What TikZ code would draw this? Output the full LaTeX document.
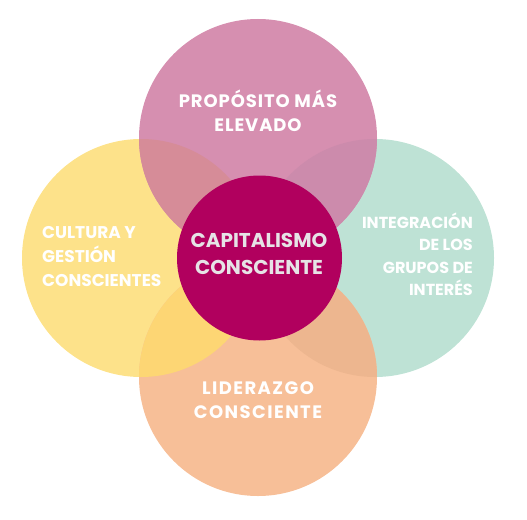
\documentclass[tikz,border=0pt]{standalone}
\usepackage{fontspec}
\setmainfont{Poppins}
\newfontfamily\ringfont{Poppins}
\usetikzlibrary{positioning}
\definecolor{purposePink}{HTML}{D68FB0}
\definecolor{cultureYellow}{HTML}{FDE28A}
\definecolor{stakeMint}{HTML}{BEE2D5}
\definecolor{leadPeach}{HTML}{F7BF98}
\definecolor{corePlum}{HTML}{B1005E}
\definecolor{mixPY}{HTML}{D68C98}
\definecolor{mixPM}{HTML}{CC8BAC}
\definecolor{mixLY}{HTML}{FDD674}
\definecolor{mixLM}{HTML}{EDB68F}
\definecolor{coreText}{HTML}{E6E3E6}
% bold label font: size, line distance, tracking
\newcommand{\labelfont}[3]{\ringfont\bfseries\fontsize{#1}{#2}\selectfont\addfontfeature{LetterSpace=#3}}

\begin{document}
\begin{tikzpicture}[x=1pt, y=-1pt,
    ring/.style={circle, minimum size=238pt, inner sep=0pt},
    ringlabel/.style={text=white, inner sep=0pt},
    corelabel/.style={text=coreText, inner sep=0pt, align=center, font=\labelfont{20}{27}{0}}
]
\useasboundingbox (0,0) rectangle (527,519);

% outer rings
\node[ring, fill=cultureYellow] (cultura) at (141,258) {};
\node[ring, fill=stakeMint] (grupos) at (375,258) {};
\node[ring, fill=leadPeach] (liderazgo) at (258,377) {};
\node[ring, fill=purposePink] (proposito) at (258,138) {};

% overlaps
\begin{scope}
  \clip (proposito.center) circle[radius=119pt];
  \fill[mixPY] (cultura.center) circle[radius=119pt];
  \fill[mixPM] (grupos.center) circle[radius=119pt];
\end{scope}
\begin{scope}
  \clip (liderazgo.center) circle[radius=119pt];
  \fill[mixLY] (cultura.center) circle[radius=119pt];
  \fill[mixLM] (grupos.center) circle[radius=119pt];
\end{scope}

% core
\node[circle, minimum size=165pt, inner sep=0pt, fill=corePlum] (capital) at (259.5,258) {};

% labels
\node[ringlabel, align=center, font=\labelfont{18}{24}{5}] (tPurpose) at (258,111) {PROPÓSITO MÁS\\ELEVADO};
\node[ringlabel, align=left, anchor=west, font=\labelfont{17}{24}{0}] (tCulture) at (42,257) {CULTURA Y\\GESTIÓN\\CONSCIENTES};
\node[ringlabel, align=right, anchor=east, font=\labelfont{16}{22.5}{0}] (tStake) at (473,254) {INTEGRACIÓN\\DE LOS\\GRUPOS DE\\INTERÉS};
\node[ringlabel, align=center, font=\labelfont{18}{24}{8}] (tLead) at (258,400) {LIDERAZGO\\CONSCIENTE};
\node[corelabel] (tCore) at (259,254) {CAPITALISMO\\CONSCIENTE};
\end{tikzpicture}
\end{document}
